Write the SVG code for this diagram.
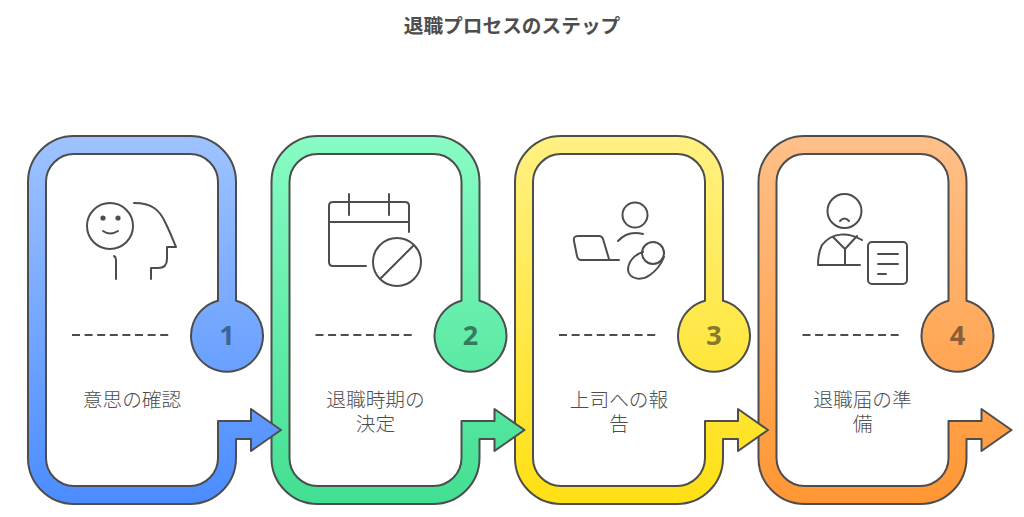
<svg xmlns="http://www.w3.org/2000/svg" width="1024" height="517" viewBox="0 0 1024 517">
<style>
.t{font-family:"Noto Sans CJK JP","Noto Sans",sans-serif;text-anchor:middle}
.title{font-size:19.7px;font-weight:700;fill:#4d4d4d}
.label{font-size:19.7px;font-weight:300;fill:#4d4d4d}
.num{font-family:"Noto Sans","Liberation Sans",sans-serif;font-size:27px;font-weight:700;text-anchor:middle}
.band{stroke:#4d4d4d;stroke-width:2;stroke-linejoin:round}
.dash{stroke:#4d4d4d;stroke-width:2;stroke-dasharray:8 4.6;fill:none}
.ic{fill:none;stroke:#4d4d4d;stroke-width:2;stroke-linecap:round;stroke-linejoin:round}
</style>
<defs>
<linearGradient id="g1" gradientUnits="userSpaceOnUse" x1="0" y1="136" x2="0" y2="504"><stop offset="0" stop-color="#9fc3ff"/><stop offset="1" stop-color="#4b8cff"/></linearGradient>
<linearGradient id="g2" gradientUnits="userSpaceOnUse" x1="0" y1="136" x2="0" y2="504"><stop offset="0" stop-color="#88fcc4"/><stop offset="1" stop-color="#42df92"/></linearGradient>
<linearGradient id="g3" gradientUnits="userSpaceOnUse" x1="0" y1="136" x2="0" y2="504"><stop offset="0" stop-color="#fff183"/><stop offset="1" stop-color="#ffe014"/></linearGradient>
<linearGradient id="g4" gradientUnits="userSpaceOnUse" x1="0" y1="136" x2="0" y2="504"><stop offset="0" stop-color="#ffc08a"/><stop offset="1" stop-color="#ff9633"/></linearGradient>
<path id="band" class="band" d="M236 300.8V182A46 46 0 0 0 190 136H74A46 46 0 0 0 28 182V458A46 46 0 0 0 74 504H190A46 46 0 0 0 236 458V439H251V451L281 430L251 409V421H218V458A28 28 0 0 1 190 486H74A28 28 0 0 1 46 458V182A28 28 0 0 1 74 154H190A28 28 0 0 1 218 182V300.8A36 36 0 1 0 236 300.8Z"/>
</defs>
<text class="t title" x="512" y="33">退職プロセスのステップ</text>
<g id="step4" transform="translate(730.5 0)">
<use href="#band" fill="url(#g4)"/>
<line class="dash" x1="72" y1="335" x2="170" y2="335"/>
<text class="num" x="227" y="345" fill="#8a5f38">4</text>
<text class="t label" x="132" y="407">退職届の準<tspan x="132" dy="24">備</tspan></text>
</g>
<g id="icon4" class="ic">
<circle cx="844.5" cy="211" r="17"/>
<path d="M840 221Q844.5 216 849 221"/>
<path d="M862 240C848 232 832 232 822 245Q818 253 818 265H860"/>
<path d="M833 237L845 249L857 236M845 249V265"/>
<rect x="868" y="242" width="39" height="42" rx="4"/>
<path d="M878 254H898M878 264H898M878 274H886"/>
</g>
<g id="step3" transform="translate(487 0)">
<use href="#band" fill="url(#g3)"/>
<line class="dash" x1="72" y1="335" x2="170" y2="335"/>
<text class="num" x="227" y="345" fill="#857a2e">3</text>
<text class="t label" x="132" y="407">上司への報<tspan x="132" dy="24">告</tspan></text>
</g>
<g id="icon3" class="ic">
<circle cx="635" cy="215" r="12.5"/>
<path d="M618 241Q628 230 643 234"/>
<path d="M619 260H581Q578 260 577 256L574 241Q573 236 578 236H599Q602 236 603 239L609 259"/>
<circle cx="653" cy="253" r="11"/>
<path d="M643 252C633 255 628 263 628 270C629 278 640 282 650 275C657 270 662 262 664 257"/>
</g>
<g id="step2" transform="translate(243.5 0)">
<use href="#band" fill="url(#g2)"/>
<line class="dash" x1="72" y1="335" x2="170" y2="335"/>
<text class="num" x="227" y="345" fill="#3a7a5c">2</text>
<text class="t label" x="132" y="407">退職時期の<tspan x="132" dy="24">決定</tspan></text>
</g>
<g id="icon2" class="ic">
<path d="M409 232V206Q409 202 405 202H333Q329 202 329 206V262Q329 266 333 266H366"/>
<path d="M329 222H409M349 194V215M389 194V215"/>
<circle cx="397" cy="262" r="24"/>
<path d="M381 278L413 246"/>
</g>
<g id="step1">
<use href="#band" fill="url(#g1)"/>
<line class="dash" x1="72" y1="335" x2="170" y2="335"/>
<text class="num" x="227" y="345" fill="#3d6496">1</text>
<text class="t label" x="132" y="407">意思の確認</text>
<g class="ic">
<circle cx="110" cy="226" r="23"/>
<circle cx="103" cy="218" r="1.6" fill="#4d4d4d"/><circle cx="118" cy="218" r="1.6" fill="#4d4d4d"/>
<path d="M103 231Q110 236 118 231"/>
<path d="M134 203C152 203 160 210 166 224C170 232 173 240 176 247H167V259Q167 268 158 268H151V279"/>
<path d="M114 256Q116 257 116 260V279"/>
</g>
</g>
</svg>
